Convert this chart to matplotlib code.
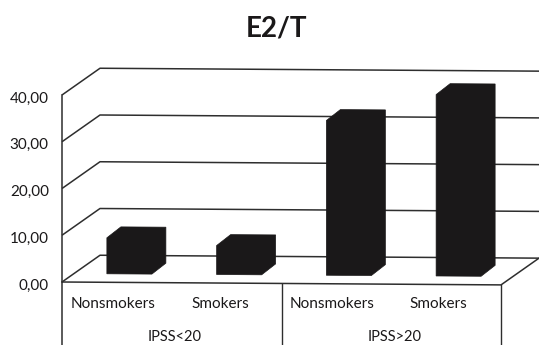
import matplotlib
matplotlib.use("Agg")
import matplotlib.pyplot as plt
from matplotlib.patches import Polygon
from matplotlib.transforms import Affine2D, ScaledTranslation

groups = ["IPSS<20", "IPSS>20"]
categories = ["Nonsmokers", "Smokers", "Nonsmokers", "Smokers"]
values = [7.7, 6.2, 33.1, 38.8]
y_ticks = [0, 10, 20, 30, 40]
y_labels = ["0,00", "10,00", "20,00", "30,00", "40,00"]

W, H = 539, 345
INK = "#1a1819"
LINE = "#2e2e2e"
plt.rcParams["font.family"] = ["Lato", "DejaVu Sans"]

fig = plt.figure(figsize=(W / 100, H / 100), dpi=100)
ax = fig.add_axes([62 / W, (H - 282) / H, 439 / W, 187 / H])
ax.set_xlim(0, 4)
ax.set_ylim(0, 40)
for s in ax.spines.values():
    s.set_visible(False)

# Pixel-to-data scale factors for the oblique depth offsets
px_x = 4 / 439
px_y = 40 / 187
floor_dx, floor_dy = 38 * px_x, 27 * px_y
bar_dx, bar_dy = 14 * px_x, 11 * px_y
face_ox, face_oy = 12.5 * px_x, 8.5 * px_y
bar_w = 45 * px_x

# The whole plot leans very slightly downward to the right
lean = 0.0066 * (px_x ** -1) * px_y
tr = Affine2D.from_values(1, -lean, 0, 1, 0, 0) + ax.transData

line_kw = dict(color=LINE, lw=1.1, transform=tr, clip_on=False, solid_capstyle="butt")

# Back wall gridlines with their side-wall returns
for v in y_ticks:
    ax.plot([0, floor_dx, 4 + floor_dx], [v, v + floor_dy, v + floor_dy], **line_kw)

# Floor front and right edges
ax.plot([0, 4, 4 + floor_dx], [0, 0, floor_dy], **line_kw)

# Axis line and group dividers run down past the label rows
ax.plot([0, 0], [0, 40], color=LINE, lw=1.1, clip_on=False)
ax.plot([0, 0], [0, -63 * px_y], color=LINE, lw=1.1, clip_on=False)
ax.plot([2, 2], [-0.4, -63 * px_y - 0.4], color=LINE, lw=1.0, clip_on=False)
ax.plot([4, 4], [-0.6, -63 * px_y - 0.6], color=LINE, lw=1.0, clip_on=False)

# Oblique 3-D bars
for i, v in enumerate(values):
    x0 = i + 0.5 + face_ox - bar_w / 2
    x1 = x0 + bar_w
    y0 = face_oy
    y1 = face_oy + v
    outline = [
        (x0, y0), (x1, y0), (x1 + bar_dx, y0 + bar_dy),
        (x1 + bar_dx, y1 + bar_dy), (x0 + bar_dx, y1 + bar_dy), (x0, y1),
    ]
    ax.add_patch(Polygon(outline, closed=True, facecolor=INK, edgecolor=INK,
                         lw=0.5, transform=tr, clip_on=False, zorder=3))

# Value axis labels sit a little below their gridline level
ax.set_xticks([])
ax.set_yticks(y_ticks, y_labels)
ax.tick_params(axis="y", length=0, pad=9.5, labelsize=11, labelcolor=INK)
label_shift = ScaledTranslation(0, -2 / 100, fig.dpi_scale_trans)
for t in ax.get_yticklabels():
    t.set_transform(t.get_transform() + label_shift)

# Category and group labels below the floor
cat_x = [0.465, 1.445, 2.46, 3.43]
for x, name in zip(cat_x, categories):
    ax.text(x, -22 * px_y, name, ha="center", va="center", fontsize=11, color=INK)
for x, name in zip([1.03, 3.03], groups):
    ax.text(x, -55 * px_y, name, ha="center", va="center", fontsize=10.5, color=INK)

fig.text(276 / W, 1 - 28 / H, "E2/T", ha="center", va="center",
         fontsize=20, fontweight="bold", color=INK)

fig.savefig("out.png", dpi=100, facecolor="white")
